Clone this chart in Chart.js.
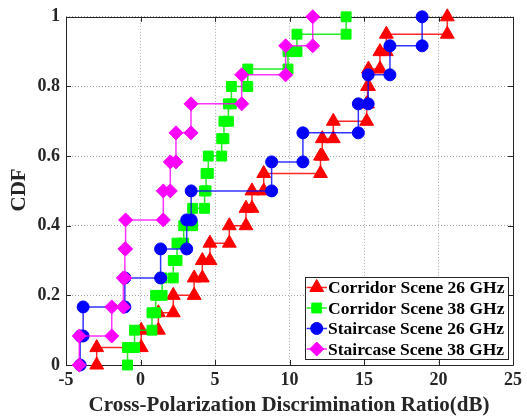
<!DOCTYPE html>
<html>
<head>
<meta charset="utf-8">
<script src="https://cdn.jsdelivr.net/npm/chart.js@4/dist/chart.umd.min.js"></script>
<style>
  html, body { margin: 0; padding: 0; background: #fff; overflow: hidden; }
  canvas { display: block; }
</style>
</head>
<body>
<canvas id="cdf" width="527" height="418"></canvas>
<script>
// XPD samples in dB, sorted ascending, one array per measurement set
const corridor26 = [-2.94, 0.05, 1.2, 2.2, 3.6, 4.15, 4.66, 5.96, 7.08, 7.48, 8.27, 12.08, 12.2, 12.94, 15.18, 15.24, 15.3, 16.07, 16.5, 20.59];
const corridor38 = [-0.87, -0.4, 0.77, 1.02, 1.45, 2.2, 2.45, 2.9, 3.5, 4.3, 4.4, 4.55, 5.45, 5.6, 5.9, 6.1, 7.2, 9.9, 10.5, 13.8];
const staircase26 = [-4.05, -3.85, -1.05, 1.35, 3.1, 3.4, 8.8, 10.9, 14.62, 15.28, 16.74, 18.9];
const staircase38 = [-4.11, -1.93, -1.15, -1.05, -1.0, 1.53, 2.0, 2.38, 3.39, 6.79, 9.74, 11.56];

const seriesLabels = ['Corridor Scene 26 GHz', 'Corridor Scene 38 GHz', 'Staircase Scene 26 GHz', 'Staircase Scene 38 GHz'];
const xTickValues = [-5, 0, 5, 10, 15, 20, 25];
const yTickValues = [0, 0.2, 0.4, 0.6, 0.8, 1];
const xAxisTitle = 'Cross-Polarization Discrimination Ratio(dB)';
const yAxisTitle = 'CDF';

const FONT = "'Liberation Serif', 'Times New Roman', serif";
const INK = '#262626';

// Empirical CDF as a staircase: each sample adds a vertical jump of 1/n,
// with a marker on both corners of the jump.
function ecdfVertices(samples) {
  const n = samples.length;
  const pts = [];
  samples.forEach((x, i) => {
    pts.push({ x: x, y: i / n });
    pts.push({ x: x, y: (i + 1) / n });
  });
  return pts;
}

const styles = [
  { color: '#ff0000', line: 'rgba(255,0,0,0.85)', pointStyle: 'triangle', radius: 8 },
  { color: '#00ff00', line: 'rgba(0,230,0,0.85)', pointStyle: 'rect', radius: 7 },
  { color: '#0000ff', line: 'rgba(0,0,255,0.8)', pointStyle: 'circle', radius: 6 },
  { color: '#ff00ff', line: 'rgba(255,0,255,0.8)', pointStyle: 'rectRot', radius: 7 }
];
const sampleSets = [corridor26, corridor38, staircase26, staircase38];

const datasets = sampleSets.map((s, i) => ({
  label: seriesLabels[i],
  data: ecdfVertices(s),
  showLine: true,
  borderColor: styles[i].line,
  borderWidth: 1.5,
  pointStyle: styles[i].pointStyle,
  pointRadius: styles[i].radius,
  pointHoverRadius: styles[i].radius,
  pointBackgroundColor: styles[i].color,
  pointBorderColor: styles[i].color,
  pointBorderWidth: 1,
  clip: false,
  order: sampleSets.length - i
}));

// Axes box, inward ticks on all four sides, and axis titles
const axesFrame = {
  id: 'axesFrame',
  beforeDatasetsDraw(chart) {
    const { ctx, chartArea: a, scales } = chart;
    ctx.save();
    ctx.strokeStyle = INK;
    ctx.lineWidth = 1;
    ctx.beginPath();
    ctx.rect(Math.round(a.left) + 0.5, Math.round(a.top) + 0.5,
             Math.round(a.right - a.left), Math.round(a.bottom - a.top));
    ctx.stroke();
    const tl = 5;
    ctx.beginPath();
    xTickValues.forEach(v => {
      const px = Math.round(scales.x.getPixelForValue(v)) + 0.5;
      ctx.moveTo(px, a.bottom); ctx.lineTo(px, a.bottom - tl);
      ctx.moveTo(px, a.top); ctx.lineTo(px, a.top + tl);
    });
    yTickValues.forEach(v => {
      const py = Math.round(scales.y.getPixelForValue(v)) + 0.5;
      ctx.moveTo(a.left, py); ctx.lineTo(a.left + tl, py);
      ctx.moveTo(a.right, py); ctx.lineTo(a.right - tl, py);
    });
    ctx.stroke();
    ctx.restore();
  },
  afterDraw(chart) {
    const { ctx, chartArea: a } = chart;
    ctx.save();
    ctx.fillStyle = INK;
    ctx.font = 'bold 21px ' + FONT;
    ctx.textAlign = 'center';
    ctx.textBaseline = 'alphabetic';
    ctx.fillText(xAxisTitle, 289, 411);
    ctx.translate(25, (a.top + a.bottom) / 2 - 1);
    ctx.rotate(-Math.PI / 2);
    ctx.fillText(yAxisTitle, 0, 0);
    ctx.restore();
  }
};

// Legend box in the lower-right corner of the plot area
const cornerLegend = {
  id: 'cornerLegend',
  afterDraw(chart) {
    const { ctx } = chart;
    const box = { x: 305.5, y: 277.5, w: 203, h: 82 };
    ctx.save();
    ctx.fillStyle = '#ffffff';
    ctx.fillRect(box.x, box.y, box.w, box.h);
    ctx.strokeStyle = INK;
    ctx.lineWidth = 1;
    ctx.strokeRect(box.x, box.y, box.w, box.h);
    const rowH = 20.5;
    chart.data.datasets.forEach((ds, i) => {
      const cy = 287.5 + i * rowH;
      ctx.strokeStyle = ds.borderColor;
      ctx.lineWidth = 1.5;
      ctx.beginPath();
      ctx.moveTo(306.5, cy); ctx.lineTo(327, cy);
      ctx.stroke();
      ctx.fillStyle = ds.pointBackgroundColor;
      ctx.strokeStyle = ds.pointBorderColor;
      ctx.lineWidth = 1;
      Chart.helpers.drawPoint(ctx, {
        pointStyle: ds.pointStyle, radius: ds.pointRadius, borderWidth: 1, rotation: 0
      }, 316.7, cy);
      ctx.fillStyle = '#000000';
      ctx.font = 'bold 17.5px ' + FONT;
      ctx.textAlign = 'left';
      ctx.textBaseline = 'middle';
      ctx.fillText(ds.label, 328, cy + 1);
    });
    ctx.restore();
  }
};

const tickFont = { family: FONT, size: 18, weight: 'bold' };

new Chart(document.getElementById('cdf'), {
  type: 'scatter',
  data: { datasets },
  options: {
    responsive: false,
    animation: false,
    events: [],
    layout: { padding: { top: 12, right: 14, left: 0, bottom: 0 } },
    plugins: { legend: { display: false }, tooltip: { enabled: false } },
    scales: {
      x: {
        type: 'linear', min: -5, max: 25,
        afterBuildTicks: s => { s.ticks = xTickValues.map(v => ({ value: v })); },
        afterFit: s => { s.height = 53; },
        ticks: { font: tickFont, color: INK, padding: 5, maxRotation: 0, autoSkip: false },
        grid: { color: 'rgba(0,0,0,0.35)', lineWidth: 1, drawTicks: false },
        border: { display: false, dash: [1, 2] }
      },
      y: {
        type: 'linear', min: 0, max: 1,
        afterBuildTicks: s => { s.ticks = yTickValues.map(v => ({ value: v })); },
        afterFit: s => { s.width = 66; },
        ticks: { font: tickFont, color: INK, padding: 6, autoSkip: false,
                 callback: v => String(Math.round(v * 10) / 10) },
        grid: { color: 'rgba(0,0,0,0.35)', lineWidth: 1, drawTicks: false },
        border: { display: false, dash: [1, 2] }
      }
    }
  },
  plugins: [axesFrame, cornerLegend]
});
</script>
</body>
</html>
